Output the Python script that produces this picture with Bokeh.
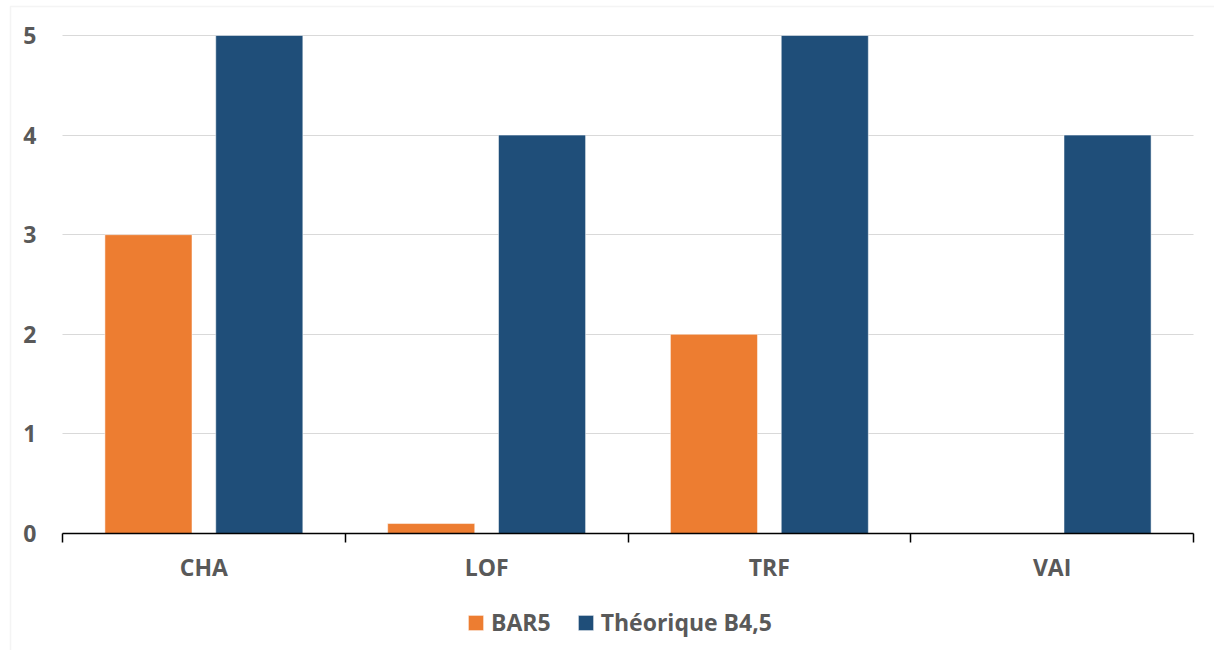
from bokeh.plotting import figure
from bokeh.models import (ColumnDataSource, Range1d, FixedTicker, Legend, LegendItem,
                          BoxAnnotation, Grid)
from bokeh.transform import dodge
from bokeh.embed import file_html
from bokeh.resources import INLINE

categories = ["CHA", "LOF", "TRF", "VAI"]
bar5 = [3, 0.1, 2, 0]
theorique = [5, 4, 5, 4]
y_ticks = [0, 1, 2, 3, 4, 5]

n = len(categories)
centers = [i + 0.5 for i in range(n)]
bounds = [i for i in range(n + 1)]

src = ColumnDataSource(dict(x=centers, cat=categories, bar5=bar5, theo=theorique))

FONT = "Open Sans"
GRAY = "#595959"
ORANGE = "#ED7D31"
BLUE = "#1F4E79"
FS = "23px"

W, H = 1214, 650
# plot-area placement on the canvas (pixels)
PL, PR, PT, PB = 62, 1193, 35, 533
ymax = max(y_ticks)
ppx = (PR - PL) / n          # pixels per category
ppy = (PB - PT) / ymax       # pixels per unit

def px2x(px):
    return (px - PL) / ppx

def px2y(py):
    return (PB - py) / ppy

p = figure(width=W, height=H, output_backend="svg", toolbar_location=None, title=None,
           x_range=Range1d(px2x(0), px2x(W)), y_range=Range1d(px2y(H), px2y(0)),
           min_border=0, min_border_left=0, min_border_right=0,
           min_border_top=0, min_border_bottom=0)
p.outline_line_color = None
p.background_fill_color = "white"
p.border_fill_color = "white"

r1 = p.vbar(x=dodge("x", -0.196, range=p.x_range), top="bar5", width=0.308, source=src,
            fill_color=ORANGE, line_color="white", line_alpha=0.5, line_width=1)
r2 = p.vbar(x=dodge("x", 0.196, range=p.x_range), top="theo", width=0.308, source=src,
            fill_color=BLUE, line_color="white", line_alpha=0.5, line_width=1)

# x axis, fixed at y = 0
xa = p.xaxis[0]
xa.fixed_location = 0
xa.bounds = (0, n)
xa.ticker = FixedTicker(ticks=centers, minor_ticks=bounds)
xa.major_label_overrides = {c: lab for c, lab in zip(centers, categories)}
xa.major_tick_line_color = None
xa.major_tick_out = 0
xa.major_tick_in = 0
xa.minor_tick_out = 9
xa.minor_tick_in = 0
xa.minor_tick_line_color = "black"
xa.minor_tick_line_width = 1.5
xa.axis_line_color = "black"
xa.axis_line_width = 1.5
xa.major_label_standoff = 8
xa.major_label_text_font = FONT
xa.major_label_text_font_style = "bold"
xa.major_label_text_font_size = FS
xa.major_label_text_color = GRAY

# y axis, fixed at x = 0
ya = p.yaxis[0]
ya.fixed_location = 0
ya.bounds = (0, ymax)
ya.ticker = FixedTicker(ticks=y_ticks)
ya.axis_line_color = None
ya.major_tick_line_color = None
ya.minor_tick_line_color = None
ya.major_tick_out = 0
ya.major_label_standoff = 26
ya.major_label_text_font = FONT
ya.major_label_text_font_style = "bold"
ya.major_label_text_font_size = FS
ya.major_label_text_color = GRAY

p.xgrid.grid_line_color = None
if "cross_bounds" in Grid.properties():
    p.ygrid.ticker = FixedTicker(ticks=y_ticks)
    p.ygrid.bounds = (0, ymax)
    p.ygrid.cross_bounds = (0, n)
    p.ygrid.grid_line_color = "#D9D9D9"
    p.ygrid.grid_line_width = 1.2
else:
    p.ygrid.grid_line_color = None
    p.segment(x0=[0] * len(y_ticks), x1=[n] * len(y_ticks), y0=y_ticks, y1=y_ticks,
              line_color="#D9D9D9", line_width=1.2, level="underlay")

legend = Legend(items=[LegendItem(label="BAR5", renderers=[r1]),
                       LegendItem(label="Théorique B4,5", renderers=[r2])],
                orientation="horizontal", location=(466, 12),
                border_line_color=None, background_fill_alpha=0,
                glyph_width=19, glyph_height=19, label_standoff=6, spacing=25,
                padding=0, margin=0,
                label_text_font=FONT, label_text_font_style="bold",
                label_text_font_size=FS, label_text_color=GRAY)
p.add_layout(legend)

# light chart-area border (top and left edges)
border = BoxAnnotation(left=px2x(10), right=px2x(W + 20), top=px2y(6), bottom=px2y(H + 20),
                       fill_alpha=0, line_color="#D9D9D9", line_width=1.5)
p.add_layout(border)

open("out.html", "w").write(file_html(p, INLINE))
